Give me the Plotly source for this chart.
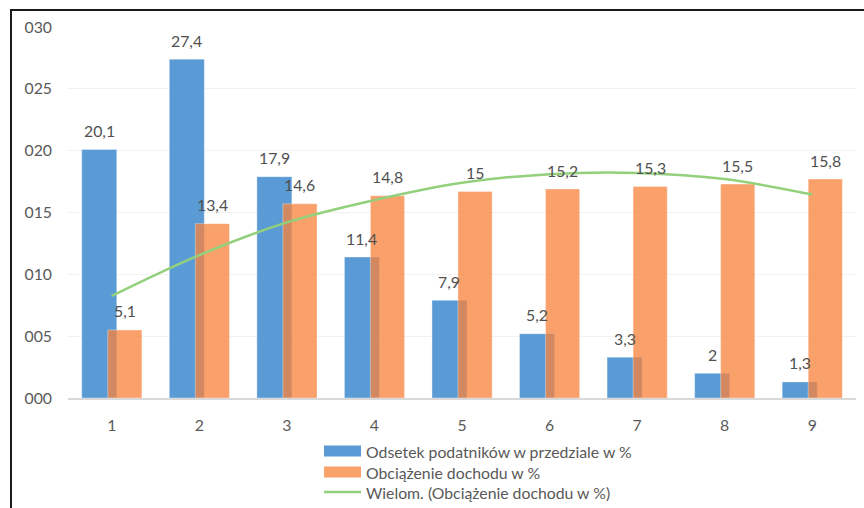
import plotly.graph_objects as go

categories = [1, 2, 3, 4, 5, 6, 7, 8, 9]
odsetek = [20.1, 27.4, 17.9, 11.4, 7.9, 5.2, 3.3, 2.0, 1.3]
odsetek_labels = ["20,1", "27,4", "17,9", "11,4", "7,9", "5,2", "3,3", "2", "1,3"]
obciazenie = [5.5, 14.1, 15.7, 16.35, 16.7, 16.9, 17.1, 17.3, 17.7]
obciazenie_labels = ["5,1", "13,4", "14,6", "14,8", "15", "15,2", "15,3", "15,5", "15,8"]
trend = [8.25, 11.55, 14.2, 16.0, 17.4, 18.1, 18.2, 17.7, 16.45]
ytick_vals = [0, 5, 10, 15, 20, 25, 30]
ytick_text = ["000", "005", "010", "015", "020", "025", "030"]
legend_names = ["Odsetek podatników w przedziale w %", "Obciążenie dochodu w %",
                "Wielom. (Obciążenie dochodu w %)"]

FONT = "Lato"
TXT = "#595959"
LBL = "#505050"
BLUE = "#5B9BD5"
ORANGE = "rgba(247,130,60,0.76)"
GREEN = "#92D07C"
FS = 15.8

B_OFF, B_W = -0.343, 0.40
O_OFF, O_W = -0.046, 0.39

fig = go.Figure()
fig.add_trace(go.Bar(x=categories, y=odsetek, offset=B_OFF, width=B_W,
                     marker=dict(color=BLUE, line=dict(color="rgba(255,255,255,0.35)", width=1)),
                     name=legend_names[0], showlegend=False))
fig.add_trace(go.Bar(x=categories, y=obciazenie, offset=O_OFF, width=O_W,
                     marker=dict(color=ORANGE, line=dict(color="rgba(255,255,255,0.35)", width=1)),
                     name=legend_names[1], showlegend=False))
fig.add_trace(go.Scatter(x=categories, y=trend, mode="lines",
                         line=dict(color=GREEN, width=2.5, shape="spline"),
                         name=legend_names[2], showlegend=False))

annotations = []
for c, v, t in zip(categories, odsetek, odsetek_labels):
    annotations.append(dict(x=c + B_OFF + B_W / 2, y=v, text=t, showarrow=False,
                            yshift=19, yanchor="middle", xanchor="center",
                            font=dict(family=FONT, size=FS, color=LBL)))
for c, v, t in zip(categories, obciazenie, obciazenie_labels):
    annotations.append(dict(x=c + O_OFF + O_W / 2, y=v, text=t, showarrow=False,
                            yshift=19, yanchor="middle", xanchor="center",
                            font=dict(family=FONT, size=FS, color=LBL)))

# plot area geometry in pixels for paper conversions
L, R, T, B = 68, 856, 27, 398
W = R - L
H = B - T
def px(x):
    return (x - L) / W
def py(y):
    return (B - y) / H

shapes = []
# outer frame (top and left)
shapes.append(dict(type="line", xref="paper", yref="paper", x0=px(10), x1=px(864), y0=py(10), y1=py(10),
                   line=dict(color="#1a1a1a", width=2)))
shapes.append(dict(type="line", xref="paper", yref="paper", x0=px(11), x1=px(11), y0=py(10), y1=py(508),
                   line=dict(color="#1a1a1a", width=2)))

# legend
rows = [451, 472, 492]
colors = [BLUE, ORANGE]
for i in range(2):
    shapes.append(dict(type="rect", xref="paper", yref="paper", x0=px(324), x1=px(361),
                       y0=py(rows[i] - 5.5), y1=py(rows[i] + 5.5), line=dict(width=0),
                       fillcolor=colors[i]))
shapes.append(dict(type="line", xref="paper", yref="paper", x0=px(324), x1=px(361),
                   y0=py(rows[2]), y1=py(rows[2]), line=dict(color=GREEN, width=2.5)))
for i in range(3):
    annotations.append(dict(xref="paper", yref="paper", x=px(364), y=py(rows[i]), text=legend_names[i],
                            showarrow=False, xanchor="left", yanchor="middle",
                            font=dict(family=FONT, size=FS, color=TXT)))

fig.update_layout(
    width=864, height=508,
    margin=dict(l=L, r=864 - R, t=T, b=508 - B),
    paper_bgcolor="white", plot_bgcolor="white",
    barmode="overlay",
    font=dict(family=FONT, size=FS, color=TXT),
    xaxis=dict(range=[0.5, 9.5], tickvals=categories, ticktext=[str(c) for c in categories],
               showgrid=False, showline=True, linecolor="#D9D9D9", linewidth=2,
               ticks="", ticklabelstandoff=12, zeroline=False),
    yaxis=dict(range=[0, 30], tickvals=ytick_vals, ticktext=ytick_text,
               showgrid=True, gridcolor="#F2F2F2", gridwidth=1, zeroline=False,
               showline=False, ticks="", ticklabelstandoff=15),
    shapes=shapes, annotations=annotations, showlegend=False,
)

fig.write_html("out.html")
